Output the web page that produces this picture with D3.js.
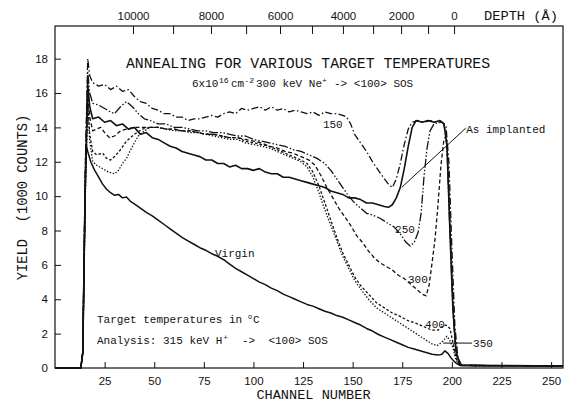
<!DOCTYPE html>
<html>
<head>
<meta charset="utf-8">
<script src="https://cdn.jsdelivr.net/npm/d3@7"></script>
<style>
body { margin: 0; background: #fff; }
text { fill: #111; }
.mono { font-family: "Liberation Mono", "DejaVu Sans Mono", monospace; white-space: pre; }
.axis text { font-family: "Liberation Sans", Arial, sans-serif; font-size: 11.5px; fill: #111; }
.axis line { stroke: #111; stroke-width: 1; }
</style>
</head>
<body>
<svg id="chart" width="570" height="404"></svg>
<script>
// bottom axis ticks (channel number)
var channelTicks = [25, 50, 75, 100, 125, 150, 175, 200, 225, 250];
// left axis ticks (1000 counts)
var yieldTicks = [0, 2, 4, 6, 8, 10, 12, 14, 16, 18];
// top axis: depth (A) and the channel where each depth tick sits
var depthValues = [10000, 9000, 8000, 7000, 6000, 5000, 4000, 3000, 2000, 1000, 0];
var depthChannels = [39.3, 59.5, 78.6, 96.3, 113.4, 129.5, 145.1, 160.3, 174.4, 188.0, 201.1];
var depthLabelled = [10000, 8000, 6000, 4000, 2000, 0];

// spectra: [channel, yield in 1000 counts]
var t150 = [[0,0],[13,0],[14,0.9],[15.3,12],[16.5,18.0],[17.5,17.0],[19,16.6],[22,16.4],[25,16.5],[28,16.2],[31,16.4],[34,16.1],[37,16.2],[40,15.8],[43,15.5],[46,15.4],[49,15.1],[52,15.0],[55,14.8],[58,14.8],[61,14.6],[64,14.6],[67,14.4],[70,14.5],[73,14.5],[76,14.6],[79,14.7],[82,14.6],[85,14.8],[88,14.9],[91,14.8],[94,15.1],[97,15.0],[100,15.1],[103,15.2],[106,15.0],[109,15.2],[112,15.0],[115,15.1],[118,14.9],[121,15.0],[124,14.9],[127,14.8],[130,14.9],[133,14.7],[136,14.9],[139,14.8],[142,14.8],[145,14.7],[147,14.6],[149,14.2],[151,13.6],[154,13.1],[157,12.6],[160,12.0],[163,11.5],[166,11.0],[168,10.7],[170,10.5],[172,11.0],[174,11.9],[176,13.0],[178,13.9],[180,14.3],[183,14.4],[186,14.3],[189,14.4],[192,14.3],[195,14.3],[197,14.1],[198.5,12],[200,7],[201.5,2.5],[203,0.6],[205,0.15],[256,0.12]];

var asImplanted = [[0,0],[13,0],[14,0.9],[15.3,11],[16.5,16.5],[17.5,15.2],[19,14.5],[22,14.6],[25,14.3],[28,14.4],[31,14.1],[34,14.2],[37,13.9],[40,14.0],[43,13.6],[46,13.7],[49,13.4],[52,13.3],[55,13.1],[58,12.9],[61,12.8],[64,12.6],[67,12.5],[70,12.4],[73,12.3],[76,12.1],[79,12.1],[82,11.9],[85,11.9],[88,11.7],[91,11.8],[94,11.6],[97,11.6],[100,11.5],[103,11.6],[106,11.4],[109,11.3],[112,11.3],[115,11.1],[118,11.1],[121,11.0],[124,10.9],[127,10.8],[130,10.7],[133,10.6],[136,10.5],[139,10.3],[142,10.2],[145,10.1],[148,9.9],[151,9.9],[154,9.8],[157,9.6],[160,9.6],[163,9.5],[166,9.4],[168,9.35],[170,9.5],[172,9.9],[174,10.5],[176,11.6],[178,12.9],[180,14.0],[182,14.4],[185,14.3],[188,14.4],[191,14.3],[194,14.4],[196,14.2],[197.5,13],[199,8],[200.5,3.5],[202,1.0],[204,0.2],[205,0.15],[256,0.12]];

var t250 = [[0,0],[13,0],[14,0.9],[15.3,11.5],[16.5,17.2],[17.5,16.0],[19,15.4],[22,15.3],[25,15.1],[28,14.9],[30,14.8],[33,15.2],[36,15.5],[39,15.2],[42,14.8],[45,14.5],[48,14.4],[52,14.2],[56,14.2],[60,14.0],[64,14.0],[68,13.9],[72,13.8],[76,13.8],[80,13.7],[84,13.7],[88,13.6],[92,13.5],[96,13.5],[100,13.3],[104,13.2],[108,13.1],[112,13.0],[116,12.9],[120,12.7],[124,12.6],[128,12.4],[132,12.2],[136,11.9],[139,11.5],[142,11.0],[145,10.5],[148,10.0],[151,9.6],[154,9.3],[157,9.0],[160,8.9],[164,8.7],[168,8.4],[171,8.2],[174,7.8],[177,7.3],[179,7.1],[181,7.3],[183,7.9],[184.5,9.0],[186,11.2],[187.5,12.8],[189,13.8],[191,14.2],[194,14.3],[196,14.2],[197.5,13],[199,8],[200.5,3.5],[202,1.0],[204,0.2],[205,0.15],[256,0.12]];

var t300 = [[0,0],[13,0],[14,0.9],[15.3,11],[16.5,16.0],[17.5,14.6],[19,13.8],[21,13.9],[23,14.0],[25,13.7],[27.5,13.4],[30,13.5],[33,13.8],[36,13.9],[40,14.0],[44,14.0],[48,14.0],[52,14.0],[56,13.9],[60,13.9],[64,13.8],[68,13.8],[72,13.7],[76,13.6],[80,13.6],[84,13.5],[88,13.4],[92,13.4],[96,13.3],[100,13.2],[104,13.1],[108,12.9],[112,12.8],[116,12.6],[120,12.5],[124,12.3],[128,12.1],[131,11.8],[134,11.2],[137,10.5],[140,9.9],[143,9.3],[146,8.8],[149,8.3],[152,7.7],[155,7.3],[158,6.8],[161,6.4],[164,6.1],[167,5.9],[170,5.7],[173,5.4],[176,5.2],[179,4.9],[182,4.6],[185,4.3],[187,4.2],[188.5,4.8],[190,6.1],[191.5,7.5],[193,9.5],[194.5,11.8],[196,13.3],[197,13.5],[198,12],[199.5,7],[201,2.5],[202.5,0.7],[204,0.2],[205,0.15],[256,0.12]];

var t400 = [[0,0],[13,0],[14,0.9],[15.3,10.5],[16.5,15.5],[17.5,13.6],[19,12.6],[21,12.4],[24,12.5],[26,12.2],[28,12.1],[30,12.3],[33,12.7],[36,13.2],[40,13.6],[44,13.9],[48,14.0],[52,14.0],[56,13.9],[60,13.9],[64,13.8],[68,13.8],[72,13.7],[76,13.6],[80,13.6],[84,13.5],[88,13.4],[92,13.4],[96,13.2],[100,13.1],[104,13.0],[108,12.9],[112,12.7],[116,12.5],[120,12.3],[124,12.1],[127,11.9],[130,11.4],[133,10.6],[136,9.6],[139,8.6],[142,7.6],[145,6.7],[148,6.0],[151,5.3],[154,4.8],[158,4.3],[162,3.8],[166,3.5],[170,3.2],[174,3.0],[178,2.75],[182,2.6],[186,2.4],[190,2.2],[193,2.2],[195,2.4],[197,2.5],[199,2.3],[200.5,1.5],[202,0.6],[203.5,0.2],[205,0.15],[256,0.12]];

var t350 = [[0,0],[13,0],[14,0.9],[15.3,10],[16.5,15.2],[17.5,13.2],[19,12.0],[21,11.8],[24,11.6],[27,11.4],[30,11.3],[32,11.5],[34,11.9],[36,12.2],[39,12.9],[42,13.5],[45,13.8],[48,14.0],[52,14.0],[56,13.9],[60,13.8],[64,13.8],[68,13.7],[72,13.7],[76,13.6],[80,13.5],[84,13.4],[88,13.3],[92,13.3],[96,13.1],[100,13.0],[104,12.9],[108,12.8],[112,12.6],[116,12.4],[120,12.2],[124,12.0],[127,11.7],[130,11.1],[133,10.2],[136,9.2],[139,8.3],[142,7.4],[145,6.5],[148,5.8],[151,5.1],[154,4.6],[158,4.0],[162,3.5],[166,3.2],[170,2.9],[174,2.6],[178,2.3],[182,2.0],[186,1.7],[190,1.4],[192.5,1.3],[195,1.5],[197.5,1.85],[199,1.6],[200.5,1.2],[202,0.5],[203.5,0.2],[205,0.15],[256,0.12]];

var virgin = [[0,0],[13,0],[14,0.9],[15,9],[15.7,13.0],[16.5,12.6],[18,12.0],[20,11.5],[22,11.1],[24,10.7],[26,10.4],[28,10.2],[30,10.05],[32,10.1],[34,9.9],[36,9.95],[38,9.7],[40,9.55],[43,9.3],[46,9.05],[49,8.85],[52,8.6],[55,8.35],[58,8.1],[61,7.85],[64,7.6],[67,7.4],[70,7.2],[73,7.0],[76,6.85],[79,6.65],[82,6.5],[85,6.3],[88,6.05],[91,5.8],[94,5.6],[97,5.4],[100,5.2],[103,5.0],[106,4.85],[109,4.65],[112,4.5],[115,4.3],[118,4.15],[121,4.0],[124,3.85],[127,3.7],[130,3.6],[133,3.45],[136,3.3],[139,3.2],[142,3.05],[145,2.95],[148,2.8],[151,2.65],[154,2.5],[157,2.3],[160,2.15],[163,1.95],[166,1.8],[169,1.65],[172,1.5],[175,1.35],[178,1.2],[181,1.1],[184,1.0],[187,0.9],[190,0.8],[193,0.75],[195,0.8],[196.5,1.0],[198,0.85],[199.5,0.6],[201,0.4],[202.5,0.25],[204,0.15],[256,0.12]];

var svg = d3.select("#chart");

var x = d3.scaleLinear().domain([0, 256]).range([55, 563]);
var y = d3.scaleLinear().domain([0, 19.9]).range([368, 26]);

// curves
var line = d3.line()
  .x(function(d) { return x(d[0]); })
  .y(function(d) { return y(d[1]); });

var series = [
  { data: virgin, dash: null, w: 1.5 },
  { data: t350, dash: "1.4,1.7", w: 1.3 },
  { data: t400, dash: "2.6,2", w: 1.3 },
  { data: t300, dash: "4,2.5", w: 1.3 },
  { data: t250, dash: "9,2,1.5,2,1.5,2", w: 1.3 },
  { data: t150, dash: "7,2.5,1.5,2.5", w: 1.3 },
  { data: asImplanted, dash: null, w: 1.6 }
];

svg.selectAll(".curve")
  .data(series)
  .enter()
  .append("path")
  .attr("class", "curve")
  .attr("d", function(d) { return line(d.data); })
  .attr("fill", "none")
  .attr("stroke", "#111")
  .attr("stroke-width", function(d) { return d.w; })
  .attr("stroke-dasharray", function(d) { return d.dash; })
  .attr("stroke-linejoin", "round");

// frame
svg.append("rect")
  .attr("x", x(0)).attr("y", y(19.9))
  .attr("width", x(256) - x(0)).attr("height", y(0) - y(19.9))
  .attr("fill", "none").attr("stroke", "#111").attr("stroke-width", 1.2);

// axes (ticks inside the frame)
var xAxis = d3.axisBottom(x).tickValues(channelTicks).tickSizeInner(-6).tickSizeOuter(0).tickPadding(9);
svg.append("g").attr("class", "axis").attr("transform", "translate(0," + y(0) + ")").call(xAxis)
  .select(".domain").remove();

var yAxis = d3.axisLeft(y).tickValues(yieldTicks).tickSizeInner(-6).tickSizeOuter(0).tickPadding(7);
svg.append("g").attr("class", "axis").attr("transform", "translate(" + x(0) + ",0)").call(yAxis)
  .select(".domain").remove();

var topAxis = d3.axisTop(x)
  .tickValues(depthChannels)
  .tickFormat(function(d, i) { return depthLabelled.indexOf(depthValues[i]) >= 0 ? depthValues[i] : ""; })
  .tickSizeInner(-8).tickSizeOuter(0).tickPadding(6);
svg.append("g").attr("class", "axis").attr("transform", "translate(0," + y(19.9) + ")").call(topAxis)
  .select(".domain").remove();

// axis titles
svg.append("text").attr("class", "mono")
  .attr("x", 484).attr("y", 20).attr("font-size", "13.7px")
  .text("DEPTH (\u00c5)");

svg.append("text").attr("class", "mono")
  .attr("x", 313.5).attr("y", 399).attr("font-size", "13.6px")
  .style("text-anchor", "middle")
  .text("CHANNEL NUMBER");

svg.append("text").attr("class", "mono")
  .attr("transform", "translate(27,197.5) rotate(-90)")
  .attr("font-size", "13.8px")
  .style("text-anchor", "middle")
  .text("YIELD  (1000 COUNTS)");

// title
svg.append("text").attr("class", "mono")
  .attr("x", 308).attr("y", 68).attr("font-size", "14.8px")
  .style("text-anchor", "middle")
  .text("ANNEALING FOR VARIOUS TARGET TEMPERATURES");

// subtitle
var sub = svg.append("text").attr("class", "mono").attr("y", 87).attr("font-size", "11px");
sub.append("tspan").attr("x", 192).text("6x10");
sub.append("tspan").attr("x", 219).attr("dy", -4).attr("font-size", "8px").text("16");
sub.append("tspan").attr("x", 231).attr("dy", 4).text("cm");
sub.append("tspan").attr("x", 244.5).attr("dy", -4).attr("font-size", "8px").text("-2");
sub.append("tspan").attr("x", 256).attr("dy", 4).text("300 keV Ne");
sub.append("tspan").attr("x", 322).attr("dy", -4).attr("font-size", "8px").text("+");
sub.append("tspan").attr("x", 334).attr("dy", 4).text("-> <100> SOS");

// notes
var note1 = svg.append("text").attr("class", "mono").attr("y", 323).attr("font-size", "11px");
note1.append("tspan").attr("x", 97).text("Target temperatures in");
note1.append("tspan").attr("x", 248).attr("dy", -4).attr("font-size", "7px").text("o");
note1.append("tspan").attr("x", 253).attr("dy", 4).text("C");

var note2 = svg.append("text").attr("class", "mono").attr("y", 344).attr("font-size", "11px");
note2.append("tspan").attr("x", 97).text("Analysis: 315 keV H");
note2.append("tspan").attr("x", 223.5).attr("dy", -4).attr("font-size", "7px").text("+");
note2.append("tspan").attr("x", 242).attr("dy", 4).text("->  <100> SOS");

// curve labels (channel, yield)
var labels = [
  { t: "150", c: 135, v: 13.96 },
  { t: "As implanted", c: 207.2, v: 13.67 },
  { t: "250", c: 171.4, v: 7.85 },
  { t: "300", c: 177.9, v: 4.94 },
  { t: "400", c: 186.5, v: 2.33 },
  { t: "350", c: 210.7, v: 1.22 },
  { t: "Virgin", c: 80.6, v: 6.46 }
];
svg.selectAll(".lab")
  .data(labels)
  .enter()
  .append("text")
  .attr("class", "mono lab")
  .attr("x", function(d) { return x(d.c); })
  .attr("y", function(d) { return y(d.v); })
  .attr("font-size", "11px")
  .text(function(d) { return d.t; });

// leader lines
var leaders = [
  [[207.0, 13.96], [174.9, 10.53]],
  [[195.6, 1.45], [210.2, 1.45]]
];
svg.selectAll(".leader")
  .data(leaders)
  .enter()
  .append("line")
  .attr("x1", function(d) { return x(d[0][0]); })
  .attr("y1", function(d) { return y(d[0][1]); })
  .attr("x2", function(d) { return x(d[1][0]); })
  .attr("y2", function(d) { return y(d[1][1]); })
  .attr("stroke", "#111").attr("stroke-width", 1);
</script>
</body>
</html>
